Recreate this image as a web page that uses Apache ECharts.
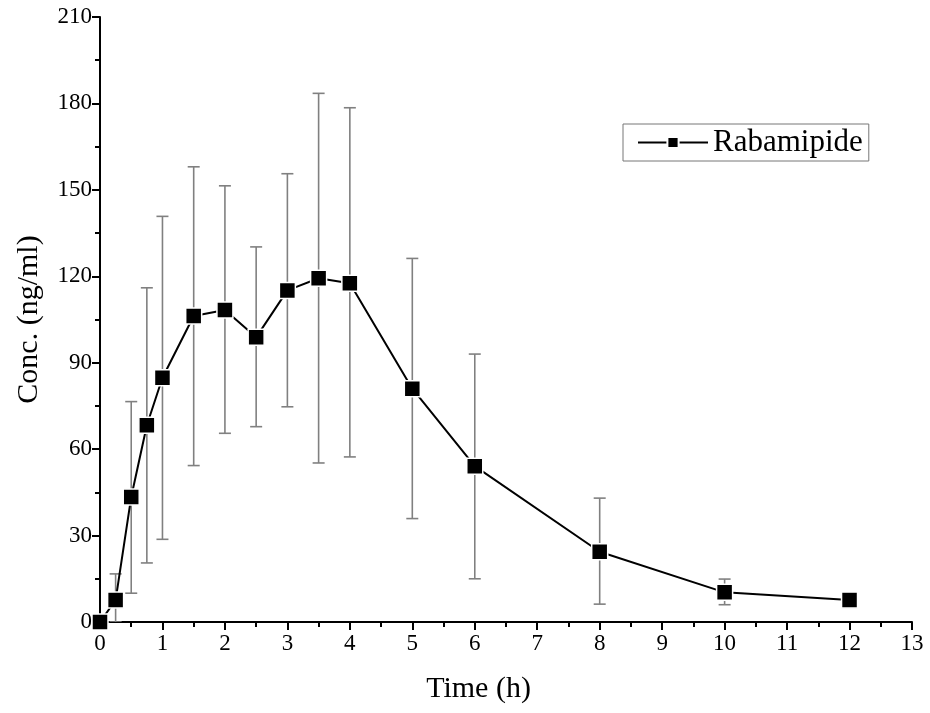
<!DOCTYPE html>
<html><head><meta charset="utf-8">
<script src="https://cdn.jsdelivr.net/npm/echarts@6/dist/echarts.min.js"></script>
<style>html,body{margin:0;padding:0;background:#fff}#c{width:930px;height:713px}</style>
</head><body><div id="c"></div>
<script>
const timeH = [0, 0.25, 0.5, 0.75, 1, 1.5, 2, 2.5, 3, 3.5, 4, 5, 6, 8, 10, 12];
const concMean = [0, 7.6, 43.4, 68.3, 84.8, 106.2, 108.3, 98.8, 115.1, 119.3, 117.6, 81, 54.1, 24.4, 10.3, 7.6];
const errUpper = [null, 16.7, 76.5, 116, 140.8, 158, 151.4, 130.2, 155.6, 183.5, 178.5, 126.2, 93, 43, 14.9, null];
const errLower = [null, 0, 10, 20.5, 28.7, 54.3, 65.5, 67.8, 74.7, 55.2, 57.3, 35.9, 15, 6.2, 6.0, null];
const seriesName = 'Rabamipide';

const font = 'Liberation Serif, Times New Roman, serif';
const chart = echarts.init(document.getElementById('c'));
const errData = [];
timeH.forEach((t, i) => { if (errUpper[i] != null) errData.push([t, errLower[i], errUpper[i]]); });

chart.setOption({
  animation: false,
  backgroundColor: '#fff',
  grid: { left: 100, right: 18, top: 17, bottom: 91, containLabel: false },
  legend: {
    left: 623, top: 124,
    data: [seriesName],
    borderColor: '#777', borderWidth: 1,
    padding: [3, 6, 3, 14],
    itemWidth: 70, itemHeight: 14,
    itemGap: 0,
    textStyle: { fontFamily: font, fontSize: 31, color: '#000' }
  },
  xAxis: {
    type: 'value', min: 0, max: 13, interval: 1,
    name: 'Time (h)', nameLocation: 'middle', nameGap: 52,
    nameTextStyle: { fontFamily: font, fontSize: 30, color: '#000', padding: [0, 55, 0, 0] },
    axisLine: { show: true, onZero: false, lineStyle: { color: '#000', width: 2 } },
    axisTick: { show: true, inside: false, length: 8, lineStyle: { color: '#000', width: 2 } },
    minorTick: { show: true, splitNumber: 2, length: 5, lineStyle: { color: '#000', width: 2 } },
    axisLabel: { fontFamily: font, fontSize: 23, color: '#000', margin: 10 },
    splitLine: { show: false }
  },
  yAxis: {
    type: 'value', min: 0, max: 210, interval: 30,
    name: 'Conc. (ng/ml)', nameLocation: 'middle', nameGap: 56, nameRotate: 90,
    nameTextStyle: { fontFamily: font, fontSize: 30, color: '#000' },
    axisLine: { show: true, onZero: false, lineStyle: { color: '#000', width: 2 } },
    axisTick: { show: true, inside: false, length: 8, lineStyle: { color: '#000', width: 2 } },
    minorTick: { show: true, splitNumber: 2, length: 5, lineStyle: { color: '#000', width: 2 } },
    axisLabel: { fontFamily: font, fontSize: 23, color: '#000', margin: 8 },
    splitLine: { show: false }
  },
  series: [
    {
      type: 'custom',
      name: 'err',
      data: errData,
      clip: true,
      z: 1,
      renderItem: function (params, api) {
        const x = api.value(0);
        const lo = api.coord([x, api.value(1)]);
        const hi = api.coord([x, api.value(2)]);
        const hw = 6;
        const style = { stroke: '#808080', lineWidth: 1.6 };
        return {
          type: 'group',
          children: [
            { type: 'line', shape: { x1: lo[0], y1: lo[1], x2: hi[0], y2: hi[1] }, style: style },
            { type: 'line', shape: { x1: hi[0] - hw, y1: hi[1], x2: hi[0] + hw, y2: hi[1] }, style: style },
            { type: 'line', shape: { x1: lo[0] - hw, y1: lo[1], x2: lo[0] + hw, y2: lo[1] }, style: style }
          ]
        };
      }
    },
    {
      type: 'line',
      name: seriesName,
      data: timeH.map((t, i) => [t, concMean[i]]),
      z: 3,
      symbol: 'rect',
      symbolSize: 16,
      showAllSymbol: true,
      lineStyle: { color: '#000', width: 2 },
      itemStyle: { color: '#000', borderColor: '#fff', borderWidth: 1.5 },
      clip: true
    }
  ]
});
</script>
</body></html>
